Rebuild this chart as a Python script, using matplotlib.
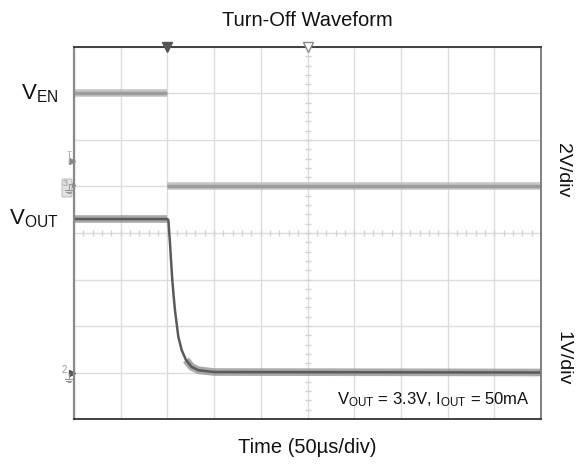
import numpy as np
import matplotlib.pyplot as plt
import matplotlib.transforms as mtransforms
from matplotlib.patches import FancyBboxPatch

plt.rcParams['font.family'] = ['Liberation Sans', 'DejaVu Sans']
plt.rcParams['mathtext.fontset'] = 'custom'
plt.rcParams['mathtext.rm'] = 'Liberation Sans'
plt.rcParams['mathtext.it'] = 'Liberation Sans'

# scope settings: 50us/div, 10 x 8 divisions, trigger 2 div from left
T_DIV = 50.0
T_START = -100.0
EN_SCALE, EN_OFFSET = 2.0, 5.0     # 2V/div, ground marker "3"
OUT_SCALE, OUT_OFFSET = 1.0, 1.0   # 1V/div, ground marker "2"

# enable signal (us, V)
en_t = [-100, 0, 0, 400]
en_v = [4.0, 4.0, 0.0, 0.0]

# output voltage (us, V)
vout_t = [-100, 0, 1.0, 2.8, 3.85, 5.25, 6.75, 8.1, 10.3, 11.7, 15.3, 19.9, 26.0, 33.1, 50, 400]
vout_v = [3.3, 3.3, 3.28, 2.78, 2.42, 1.99, 1.63, 1.34, 0.99, 0.77, 0.48, 0.27, 0.12, 0.05, 0.01, 0.0]

fig = plt.figure(figsize=(5.87, 4.69), dpi=100)
ax = fig.add_axes([74 / 587, 50 / 469, 467 / 587, 372 / 469])
ax.set_xlim(T_START, T_START + 10 * T_DIV)
ax.set_ylim(0, 8)
ax.set_xticks(np.arange(T_START, T_START + 10 * T_DIV + 1, T_DIV))
ax.set_yticks(np.arange(0, 9, 1))
ax.tick_params(length=0, labelbottom=False, labelleft=False)
ax.grid(True, color='#dcdcdc', lw=1.0)
ax.set_axisbelow(True)

# minor ticks along the center lines
xc = T_START + 5 * T_DIV
ax.plot(np.full(41, xc), np.arange(0, 8.01, 0.2), ls='none', marker='_', ms=4, color='#d2d2d2', mew=1)
ax.plot(np.arange(T_START, T_START + 10 * T_DIV + 0.1, 10), np.full(51, 4), ls='none', marker='|', ms=4, color='#d2d2d2', mew=1)

for side, c, w in [('top', '#333333', 1.3), ('bottom', '#333333', 1.3), ('left', '#8a8a8a', 1.6), ('right', '#777777', 1.3)]:
    ax.spines[side].set_color(c)
    ax.spines[side].set_linewidth(w)

en_y = [EN_OFFSET + v / EN_SCALE for v in en_v]
out_y = [OUT_OFFSET + v / OUT_SCALE for v in vout_v]

# traces: soft noise band on the flat parts + thin core
for seg in (slice(0, 2), slice(2, 4)):
    ax.plot(en_t[seg], en_y[seg], color='#bdbdbd', lw=5.5, alpha=0.85, solid_capstyle='butt')
    ax.plot(en_t[seg], en_y[seg], color='#9c9c9c', lw=2.5, solid_capstyle='butt')
for seg in (slice(0, 2), slice(-5, None)):
    ax.plot(vout_t[seg], out_y[seg], color='#8c8c8c', lw=5.5, alpha=0.75, solid_capstyle='butt', solid_joinstyle='round')
ax.plot(vout_t, out_y, color='#5a5a5a', lw=1.8, solid_capstyle='butt')

# trigger markers on top edge
ax.plot([0], [8], marker='v', ms=7, color='#555555', clip_on=False, zorder=5)
ax.plot([xc], [8], marker='v', ms=7, mfc='white', mec='#888888', mew=1, clip_on=False, zorder=5)

# channel markers on left edge, drawn in pixel coordinates (top-left origin)
px = mtransforms.Affine2D().scale(1 / 587, -1 / 469).translate(0, 1) + fig.transFigure
g = '#999999'


def ground(x, y):
    fig.add_artist(plt.Line2D([x, x], [y, y + 6], color=g, lw=0.8, transform=px))
    for i, hw in enumerate([3.5, 2.2, 1.0]):
        fig.add_artist(plt.Line2D([x - hw, x + hw], [y + 6 + 1.6 * i] * 2, color=g, lw=0.8, transform=px))


fig.add_artist(FancyBboxPatch((62, 179), 10, 18, boxstyle='round,pad=0,rounding_size=1.5',
                              fc='#e2e2e2', ec='#b0b0b0', lw=0.6, transform=px))
fig.text(65.5, 184, '3', transform=px, ha='center', va='center', fontsize=6.5, color=g)
ground(68.5, 184)
fig.add_artist(plt.Line2D([68.5, 72], [184, 184], color=g, lw=0.8, transform=px))
ax.plot([-0.004], [5.04], marker='>', ms=4, color='#777777', transform=mtransforms.blended_transform_factory(ax.transAxes, ax.transData), clip_on=False)

fig.text(69, 154, 'T', transform=px, ha='center', va='center', fontsize=6, color='#aaaaaa')
fig.add_artist(plt.Line2D([69, 69], [154, 162], color='#aaaaaa', lw=0.7, transform=px))
ax.plot([-0.004], [5.55], marker='>', ms=4, color='#888888', transform=mtransforms.blended_transform_factory(ax.transAxes, ax.transData), clip_on=False)

fig.text(64, 370, '2', transform=px, ha='center', va='center', fontsize=7, color=g)
ground(68.5, 373)
fig.add_artist(plt.Line2D([68.5, 72], [373, 373], color='#666666', lw=0.8, transform=px))
ax.plot([-0.004], [1.0], marker='>', ms=4, color='#555555', transform=mtransforms.blended_transform_factory(ax.transAxes, ax.transData), clip_on=False)

bl = mtransforms.blended_transform_factory(ax.transAxes, ax.transData)

# channel labels
ax.text(-0.034, 7.0, r'V$_{\mathrm{EN}}$', transform=bl, ha='right', va='center', fontsize=16, color='#111111')
ax.text(-0.034, 4.3, r'V$_{\mathrm{OUT}}$', transform=bl, ha='right', va='center', fontsize=16, color='#111111')
ax.text(1.047, 5.35, '2V/div', transform=bl, ha='center', va='center', rotation=-90, fontsize=14, color='#111111')
ax.text(1.047, 1.31, '1V/div', transform=bl, ha='center', va='center', rotation=-90, fontsize=14, color='#111111')
ax.text(0.976, 0.41, r'V$_{\mathrm{OUT}}$ = 3.3V, I$_{\mathrm{OUT}}$ = 50mA', transform=bl,
        ha='right', va='center', fontsize=12, color='#111111')

fig.text(307 / 587, 1 - 20 / 469, 'Turn-Off Waveform', ha='center', va='center', fontsize=14.5, color='#111111')
fig.text(307 / 587, 1 - 447 / 469, 'Time (50µs/div)', ha='center', va='center', fontsize=14.5, color='#111111')

fig.savefig('out.png', dpi=100)
